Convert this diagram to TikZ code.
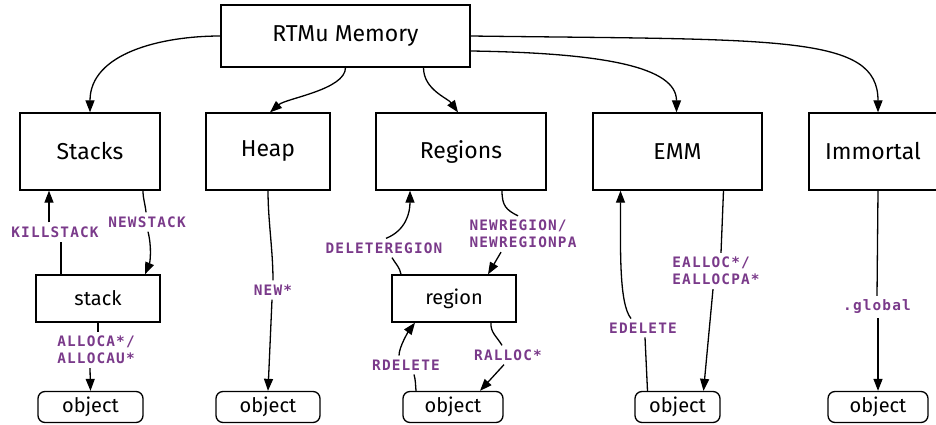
\documentclass[tikz,border=0pt]{standalone}
\usepackage{fontspec}
\setmainfont{Fira Sans}
\newfontfamily\lblfont[LetterSpace=8]{DejaVu Sans Mono Bold}
\usepackage{tikz}
\definecolor{lc}{RGB}{122, 58, 138}
\usetikzlibrary{arrows.meta}

\begin{document}
\begin{tikzpicture}[
  every node/.style={inner sep=0pt},
  box/.style={rectangle, draw=black, line width=1.3pt, minimum height=77pt, font=\fontsize{23}{27}\selectfont},
  sbox/.style={rectangle, draw=black, line width=1.3pt, minimum width=124pt, minimum height=47pt, font=\fontsize{20}{24}\selectfont},
  obj/.style={rectangle, rounded corners=7pt, draw=black, line width=1.3pt, minimum height=31pt, font=\fontsize{20}{24}\selectfont},
  lbl/.style={text=lc, inner sep=4pt, align=left, font=\lblfont\fontsize{14.4}{17}\selectfont},
  ln/.style={line width=1.3pt, color=black},
  arr/.style={ln, -{Triangle[length=12pt,width=9pt]}}
]
\useasboundingbox (0pt, 0pt) rectangle (936pt, -425pt);
% boxes
\node (mem) [box, minimum width=249pt, minimum height=62pt] at (345.5pt, -36pt) {RTMu Memory};
\node (stacks) [box, minimum width=140pt] at (90pt, -151.5pt) {Stacks};
\node (heap) [box, minimum width=124pt] at (268pt, -151.5pt) {Heap};
\node (regions) [box, minimum width=170pt] at (461pt, -151.5pt) {Regions};
\node (emm) [box, minimum width=169pt] at (677.5pt, -151.5pt) {EMM};
\node (imm) [box, minimum width=128pt] at (873pt, -151.5pt) {Immortal};
\node (stack) [sbox] at (98pt, -298.5pt) {stack};
\node (region) [sbox] at (454pt, -298.5pt) {region};
\node (obj1) [obj, minimum width=105pt] at (90.5pt, -407pt) {object};
\node (obj2) [obj, minimum width=104pt] at (268pt, -407pt) {object};
\node (obj3) [obj, minimum width=100pt] at (453pt, -407pt) {object};
\node (obj4) [obj, minimum width=85pt] at (677.5pt, -407pt) {object};
\node (obj5) [obj, minimum width=100pt] at (878pt, -407pt) {object};
% labels
\node (killlbl) [lbl] at (55pt, -232pt) {KILLSTACK};
\node (newslbl) [lbl] at (147pt, -222pt) {NEWSTACK};
\node (alloclbl) [lbl] at (96pt, -350pt) {ALLOCA*/\\ALLOCAU*};
\node (newlbl) [lbl] at (273pt, -290pt) {NEW*};
\node (delrlbl) [lbl] at (384pt, -248pt) {DELETEREGION};
\node (newrlbl) [lbl] at (523pt, -234pt) {NEWREGION/\\NEWREGIONPA};
\node (rdellbl) [lbl] at (406pt, -365pt) {RDELETE};
\node (ralllbl) [lbl] at (508pt, -355pt) {RALLOC*};
\node (edellbl) [lbl] at (643pt, -328pt) {EDELETE};
\node (eall) [lbl] at (716pt, -271pt) {EALLOC*/\\EALLOCPA*};
\node (glbl) [lbl] at (877pt, -307pt) {.global};
% top level
\draw [arr] (mem.west) to[out=180, in=90] (stacks.north);
\draw [arr] (mem.south) .. controls +(0pt, -22pt) and +(16pt, 14pt) .. ([xshift=2pt]heap.north);
\draw [arr] ([xshift=78pt]mem.south) .. controls +(0pt, -22pt) and +(-10pt, 14pt) .. ([xshift=-3pt]regions.north);
\draw [arr] ([yshift=-15pt]mem.east) .. controls +(135pt, -2pt) and +(0pt, 45pt) .. ([xshift=-1pt]emm.north);
\draw [arr] (mem.east) .. controls +(310pt, -4pt) and +(0pt, 78pt) .. ([xshift=5pt]imm.north);
% stacks
\draw [ln] ([xshift=-37pt]stack.north) -- ([xshift=6pt]killlbl.south);
\draw [arr] ([xshift=-6pt]killlbl.north) -- ([xshift=-41pt]stacks.south);
\draw [ln] ([xshift=53pt]stacks.south) to[out=-90, in=95] ([xshift=-1pt]newslbl.north);
\draw [arr] ([xshift=1pt]newslbl.south) .. controls +(4pt, -16pt) and +(5pt, 12pt) .. ([xshift=47pt]stack.north);
\draw [ln] (stack.south) -- ([xshift=2pt]alloclbl.north);
\draw [arr] ([xshift=-6pt]alloclbl.south) -- (obj1.north);
% heap
\draw [ln] (heap.south) .. controls +(0pt, -30pt) and +(0pt, 30pt) .. (newlbl.north);
\draw [arr] ([xshift=-1pt]newlbl.south) -- (obj2.north);
% regions
\draw [ln] ([xshift=-53pt]region.north) to[out=100, in=-60] ([xshift=8pt]delrlbl.south);
\draw [arr] ([xshift=2pt]delrlbl.north) .. controls +(20pt, 8pt) and +(0pt, -22pt) .. ([xshift=-51pt]regions.south);
\draw [ln] ([xshift=41pt]regions.south) .. controls +(0pt, -15pt) and +(-12pt, 6pt) .. ([xshift=-5pt]newrlbl.north);
\draw [arr] ([xshift=-22pt]newrlbl.south) -- ([xshift=34pt]region.north);
\draw [ln] ([xshift=-37pt]obj3.north) to[out=95, in=-75] ([xshift=8pt]rdellbl.south);
\draw [arr] ([xshift=-7pt]rdellbl.north) .. controls +(0pt, 9pt) and +(-6pt, -8pt) .. ([xshift=-39pt]region.south);
\draw [ln] ([xshift=37pt]region.south) to[out=-95, in=120] ([xshift=-6pt]ralllbl.north);
\draw [arr] ([xshift=-4pt]ralllbl.south) -- ([xshift=27pt]obj3.north);
% emm
\draw [ln] ([xshift=-30pt]obj4.north) -- ([xshift=2pt]edellbl.south);
\draw [arr] ([xshift=-12pt]edellbl.north) .. controls +(-12pt, 15pt) and +(0pt, -60pt) .. ([xshift=-57pt]emm.south);
\draw [ln] ([xshift=46pt]emm.south) -- ([xshift=5pt]eall.north);
\draw [arr] ([xshift=-3pt]eall.south) -- ([xshift=26pt]obj4.north);
% immortal
\draw [ln] ([xshift=5pt]imm.south) -- (glbl.north);
\draw [arr] ([xshift=1pt]glbl.south) -- (obj5.north);
\end{tikzpicture}
\end{document}
